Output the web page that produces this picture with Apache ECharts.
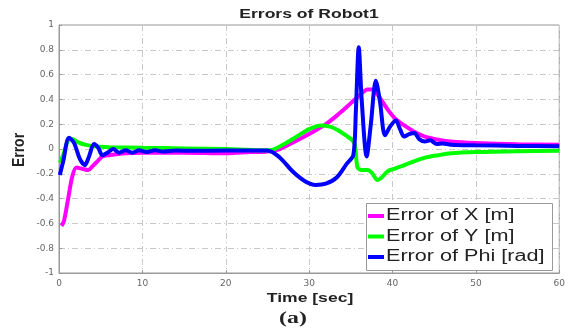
<!DOCTYPE html>
<html><head><meta charset="utf-8">
<script src="https://cdn.jsdelivr.net/npm/echarts@6/dist/echarts.min.js"></script>
<style>html,body{margin:0;padding:0;background:#fff}#c{width:568px;height:329px}</style>
</head><body><div id="c"></div>
<script>
const seriesNames = ['Error of X [m]', 'Error of Y [m]', 'Error of Phi [rad]'];
const xTicks = [0, 10, 20, 30, 40, 50, 60];
const yTicks = [-1, -0.8, -0.6, -0.4, -0.2, 0, 0.2, 0.4, 0.6, 0.8, 1];
const errX = [[0.3,-0.62],[0.6,-0.58],[1.1,-0.40],[1.6,-0.22],[2.1,-0.15],[2.8,-0.16],[3.5,-0.17],[4.0,-0.14],[4.6,-0.10],[5.2,-0.06],[6,-0.05],[8,-0.035],[10,-0.03],[15,-0.03],[20,-0.035],[23,-0.025],[25,-0.02],[26.5,0.0],[28,0.05],[30,0.12],[32,0.2],[33.5,0.28],[35,0.37],[36,0.43],[37,0.48],[37.6,0.48],[38.2,0.44],[39.4,0.32],[40.4,0.24],[41.4,0.19],[42.6,0.14],[43.9,0.10],[45.5,0.075],[47,0.06],[50,0.048],[55,0.038],[60,0.035]];
const errY = [[0.1,-0.11],[0.5,-0.05],[1.1,0.07],[1.6,0.08],[2.1,0.06],[3.1,0.035],[4.5,0.02],[6,0.015],[10,0.01],[15,0.005],[20,0.0],[24,-0.01],[25.3,-0.01],[27,0.04],[28.5,0.1],[30,0.16],[31.4,0.19],[32.5,0.18],[33.5,0.15],[34.6,0.1],[35.2,0.07],[35.5,0.03],[35.8,-0.15],[36.3,-0.17],[37,-0.17],[37.5,-0.19],[38.2,-0.25],[38.7,-0.23],[39.4,-0.18],[40.2,-0.16],[41,-0.14],[42.6,-0.1],[43.9,-0.07],[45.5,-0.05],[47,-0.035],[50,-0.025],[55,-0.018],[60,-0.015]];
const errPhi = [[0.1,-0.21],[0.5,-0.1],[1.2,0.09],[1.8,0.05],[2.5,-0.08],[3.1,-0.13],[3.6,-0.06],[4.2,0.04],[4.7,0.01],[5.2,-0.05],[5.8,-0.03],[6.5,0.0],[7.2,-0.03],[8,-0.01],[8.8,-0.03],[9.6,-0.01],[10.5,-0.025],[11.5,-0.01],[12.5,-0.02],[14,-0.012],[16,-0.015],[20,-0.012],[25,-0.012],[26.5,-0.07],[28,-0.18],[29.5,-0.26],[30.8,-0.29],[32,-0.28],[33.3,-0.23],[34.5,-0.12],[35.3,-0.05],[35.6,0.3],[35.95,0.82],[36.3,0.4],[36.9,-0.06],[37.4,0.2],[38.0,0.55],[38.5,0.38],[39.1,0.11],[39.7,0.18],[40.4,0.23],[40.9,0.16],[41.4,0.1],[42,0.12],[42.6,0.13],[43.2,0.08],[43.9,0.06],[44.5,0.07],[45.3,0.04],[46,0.045],[47,0.035],[50,0.03],[55,0.025],[60,0.022]];
const colors = ['#ff00ff', '#00ff00', '#0000ff'];
const titleText = 'Errors of Robot1';
const xName = 'Time [sec]';
const yName = 'Error';
const caption = '(a)';

const chart = echarts.init(document.getElementById('c'), null, {renderer: 'canvas'});
const font = 'Liberation Sans';
const gridLine = {show: true, lineStyle: {color: '#c8c8c8', width: 1, type: [6, 3, 1, 3]}};
const stretch = 1.35;

const legendItems = [];
seriesNames.forEach((n, i) => {
  const y = 216 + 20.5 * i;
  legendItems.push({type: 'line', shape: {x1: 368, y1: y, x2: 384, y2: y},
    style: {stroke: colors[i], lineWidth: 4}, z: 101});
  legendItems.push({type: 'text', x: 386, y: y, scaleX: stretch, z: 101,
    style: {text: n, font: '16px "Liberation Sans"', fill: '#222', align: 'left', verticalAlign: 'middle'}});
});

chart.setOption({
  animation: false,
  backgroundColor: '#fff',
  grid: {left: 59, right: 5, top: 25, bottom: 56, show: true, borderColor: '#999', borderWidth: 1},
  xAxis: {
    type: 'value', min: xTicks[0], max: xTicks[xTicks.length - 1], interval: 10,
    axisLine: {show: true, onZero: false, lineStyle: {color: '#999'}},
    axisTick: {show: true, inside: true, length: 3, lineStyle: {color: '#999'}},
    axisLabel: {fontFamily: 'DejaVu Sans', fontSize: 9, color: '#666', margin: 6},
    splitLine: gridLine
  },
  yAxis: {
    type: 'value', min: yTicks[0], max: yTicks[yTicks.length - 1], interval: 0.2,
    axisLine: {show: true, onZero: false, lineStyle: {color: '#999'}},
    axisTick: {show: true, inside: true, length: 3, lineStyle: {color: '#999'}},
    axisLabel: {fontFamily: 'DejaVu Sans', fontSize: 9, color: '#666', margin: 5,
      formatter: v => String(Math.round(v * 10) / 10)},
    splitLine: gridLine
  },
  graphic: [
    {type: 'text', x: 309, y: 14, scaleX: stretch, z: 100,
      style: {text: titleText, font: 'bold 13px "Liberation Sans"', fill: '#222', align: 'center', verticalAlign: 'middle'}},
    {type: 'text', x: 310, y: 298, scaleX: stretch, z: 100,
      style: {text: xName, font: 'bold 13px "Liberation Sans"', fill: '#222', align: 'center', verticalAlign: 'middle'}},
    {type: 'text', x: 19, y: 150, rotation: Math.PI / 2, scaleY: 1.2, z: 100,
      style: {text: yName, font: 'bold 14px "Liberation Sans"', fill: '#222', align: 'center', verticalAlign: 'middle'}},
    {type: 'text', x: 293, y: 319, scaleX: 1.4, z: 100,
      style: {text: caption, font: 'bold 17px "Liberation Serif"', fill: '#222', align: 'center', verticalAlign: 'middle'}},
    {type: 'rect', shape: {x: 366.5, y: 203.5, width: 186, height: 67}, z: 100,
      style: {fill: '#fff', stroke: '#999', lineWidth: 1}},
    ...legendItems
  ],
  series: [errX, errY, errPhi].map((d, i) => ({
    name: seriesNames[i], type: 'line', data: d, showSymbol: false, smooth: 0.3,
    lineStyle: {color: colors[i], width: 4}, itemStyle: {color: colors[i]}, z: 2 + i
  }))
});
</script></body></html>
